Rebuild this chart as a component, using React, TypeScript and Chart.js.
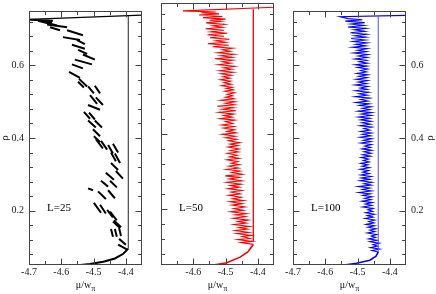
import React, { useEffect, useRef } from 'react';
import { Chart, registerables } from 'chart.js';

Chart.register(...registerables);

// ---------- axes ----------
const X_MIN = -4.7;
const X_MAX = -4.35;
const Y_MIN = 0.05;
const Y_MAX = 0.75;
const xMajor = [-4.7, -4.6, -4.5, -4.4];
const xMinor = [-4.65, -4.55, -4.45];
const yMajor = [0.2, 0.4, 0.6];
const yMinor = [0.08, 0.12, 0.16, 0.24, 0.28, 0.32, 0.36, 0.44, 0.48, 0.52, 0.56, 0.64, 0.68, 0.72];
const xLabelsP1 = ['-4.7', '-4.6', '-4.5', '-4.4'];
const xLabelsP2 = ['-4.6', '-4.5', '-4.4'];
const xLabelsP3 = ['-4.7', '-4.6', '-4.5', '-4.4'];
const yLabels = ['0.2', '0.4', '0.6'];
const panelNames = ['L=25', 'L=50', 'L=100'];

// ---------- data ----------
// coexistence chemical potential (vertical line) per L
const coexMu = [-4.3925, -4.414, -4.436];
const coexRhoLow = [0.095, 0.112, 0.086];
const coexRhoHigh = [0.736, 0.733, 0.736];

// gas branch (mu, rho)
const gasL25: [number, number][] = [[-4.62, 0.042], [-4.573, 0.047], [-4.511, 0.053], [-4.47, 0.059], [-4.434, 0.068], [-4.408, 0.081], [-4.3925, 0.095]];
const gasL50: [number, number][] = [[-4.6, 0.042], [-4.558, 0.047], [-4.496, 0.056], [-4.455, 0.071], [-4.431, 0.085], [-4.416, 0.103], [-4.414, 0.105]];
const gasL100: [number, number][] = [[-4.6, 0.042], [-4.565, 0.047], [-4.503, 0.055], [-4.462, 0.063], [-4.443, 0.074], [-4.436, 0.086]];

// liquid branch (mu, rho)
const liqL25: [number, number][] = [[-4.7, 0.727], [-4.35, 0.7385]];

// L=25 simulation strokes: [mu1, rho1, mu2, rho2]
const strokesL25: [number, number, number, number][] = [
  [-4.397, 0.093, -4.424, 0.106], [-4.4, 0.106, -4.421, 0.122], [-4.44, 0.128, -4.446, 0.149],
  [-4.428, 0.128, -4.434, 0.149], [-4.415, 0.13, -4.421, 0.152], [-4.415, 0.154, -4.437, 0.173],
  [-4.418, 0.152, -4.44, 0.17], [-4.428, 0.173, -4.449, 0.197], [-4.44, 0.181, -4.458, 0.202],
  [-4.462, 0.192, -4.48, 0.216], [-4.477, 0.194, -4.499, 0.221], [-4.434, 0.234, -4.455, 0.256],
  [-4.462, 0.232, -4.486, 0.253], [-4.502, 0.256, -4.517, 0.261], [-4.428, 0.264, -4.449, 0.282],
  [-4.455, 0.266, -4.477, 0.282], [-4.409, 0.288, -4.431, 0.309], [-4.437, 0.285, -4.462, 0.304],
  [-4.424, 0.312, -4.446, 0.331], [-4.418, 0.331, -4.434, 0.357], [-4.431, 0.336, -4.446, 0.36],
  [-4.44, 0.357, -4.455, 0.381], [-4.424, 0.36, -4.44, 0.384], [-4.458, 0.368, -4.477, 0.392],
  [-4.471, 0.371, -4.493, 0.397], [-4.48, 0.389, -4.499, 0.405], [-4.48, 0.405, -4.502, 0.424],
  [-4.474, 0.429, -4.496, 0.448], [-4.493, 0.429, -4.517, 0.448], [-4.496, 0.451, -4.514, 0.47],
  [-4.511, 0.453, -4.53, 0.472], [-4.48, 0.478, -4.517, 0.491], [-4.471, 0.491, -4.493, 0.512],
  [-4.489, 0.494, -4.511, 0.518], [-4.48, 0.523, -4.496, 0.544], [-4.499, 0.523, -4.517, 0.542],
  [-4.52, 0.542, -4.545, 0.563], [-4.53, 0.539, -4.548, 0.555], [-4.542, 0.566, -4.576, 0.582],
  [-4.533, 0.592, -4.567, 0.603], [-4.505, 0.603, -4.558, 0.616], [-4.496, 0.616, -4.533, 0.63],
  [-4.52, 0.632, -4.548, 0.643], [-4.527, 0.646, -4.567, 0.657], [-4.527, 0.659, -4.551, 0.67],
  [-4.542, 0.67, -4.595, 0.678], [-4.533, 0.683, -4.582, 0.697], [-4.604, 0.697, -4.635, 0.705],
  [-4.582, 0.705, -4.644, 0.713], [-4.613, 0.71, -4.672, 0.723], [-4.629, 0.718, -4.681, 0.726],
  [-4.626, 0.723, -4.697, 0.726],
];

// L=50 simulation (mu, rho), ends on the liquid branch
const simL50: [number, number][] = [
  [-4.414, 0.105], [-4.452, 0.11], [-4.418, 0.113], [-4.462, 0.118], [-4.425, 0.121], [-4.448, 0.126], [-4.42, 0.129], [-4.465, 0.134],
  [-4.428, 0.137], [-4.47, 0.142], [-4.432, 0.146], [-4.458, 0.15], [-4.426, 0.153], [-4.474, 0.158], [-4.436, 0.162], [-4.462, 0.166],
  [-4.43, 0.17], [-4.476, 0.175], [-4.438, 0.179], [-4.47, 0.184], [-4.436, 0.187], [-4.484, 0.192], [-4.445, 0.196], [-4.474, 0.201],
  [-4.44, 0.205], [-4.48, 0.21], [-4.448, 0.214], [-4.486, 0.219], [-4.444, 0.222], [-4.478, 0.227], [-4.452, 0.231], [-4.49, 0.236],
  [-4.455, 0.24], [-4.482, 0.245], [-4.45, 0.249], [-4.492, 0.254], [-4.458, 0.258], [-4.485, 0.262], [-4.452, 0.266], [-4.496, 0.271],
  [-4.45, 0.275], [-4.488, 0.28], [-4.458, 0.284], [-4.501, 0.288], [-4.448, 0.292], [-4.48, 0.297], [-4.455, 0.301], [-4.497, 0.305],
  [-4.46, 0.309], [-4.49, 0.314], [-4.457, 0.318], [-4.482, 0.322], [-4.462, 0.326], [-4.495, 0.331], [-4.458, 0.335], [-4.487, 0.339],
  [-4.464, 0.343], [-4.494, 0.348], [-4.46, 0.352], [-4.485, 0.356], [-4.458, 0.36], [-4.492, 0.365], [-4.462, 0.369], [-4.486, 0.373],
  [-4.456, 0.377], [-4.49, 0.382], [-4.466, 0.386], [-4.5, 0.39], [-4.47, 0.394], [-4.51, 0.399], [-4.468, 0.403], [-4.495, 0.407],
  [-4.472, 0.411], [-4.506, 0.416], [-4.474, 0.42], [-4.512, 0.424], [-4.478, 0.428], [-4.5, 0.433], [-4.472, 0.437], [-4.516, 0.441],
  [-4.48, 0.445], [-4.505, 0.449], [-4.475, 0.453], [-4.52, 0.458], [-4.468, 0.462], [-4.51, 0.466], [-4.476, 0.47], [-4.526, 0.474],
  [-4.472, 0.478], [-4.5, 0.482], [-4.47, 0.486], [-4.515, 0.49], [-4.474, 0.494], [-4.5, 0.498], [-4.478, 0.502], [-4.495, 0.506],
  [-4.472, 0.51], [-4.502, 0.514], [-4.476, 0.518], [-4.498, 0.522], [-4.48, 0.525], [-4.512, 0.529], [-4.482, 0.533], [-4.505, 0.537],
  [-4.484, 0.541], [-4.516, 0.545], [-4.486, 0.549], [-4.508, 0.553], [-4.482, 0.557], [-4.514, 0.561], [-4.476, 0.565], [-4.518, 0.569],
  [-4.48, 0.573], [-4.506, 0.577], [-4.472, 0.581], [-4.522, 0.585], [-4.484, 0.589], [-4.51, 0.593], [-4.478, 0.597], [-4.533, 0.601],
  [-4.48, 0.605], [-4.515, 0.609], [-4.474, 0.613], [-4.524, 0.617], [-4.486, 0.621], [-4.51, 0.625], [-4.478, 0.629], [-4.54, 0.633],
  [-4.49, 0.637], [-4.555, 0.641], [-4.5, 0.645], [-4.53, 0.649], [-4.488, 0.653], [-4.548, 0.657], [-4.505, 0.661], [-4.556, 0.665],
  [-4.495, 0.669], [-4.545, 0.673], [-4.505, 0.677], [-4.562, 0.681], [-4.51, 0.685], [-4.54, 0.689], [-4.504, 0.693], [-4.56, 0.697],
  [-4.515, 0.701], [-4.55, 0.704], [-4.5, 0.707], [-4.57, 0.711], [-4.51, 0.714], [-4.582, 0.718], [-4.52, 0.721], [-4.575, 0.724],
  [-4.53, 0.726], [-4.632, 0.729], [-4.35, 0.7385],
];

// L=100 simulation (mu, rho), ends on the liquid branch
const simL100: [number, number][] = [
  [-4.436, 0.086], [-4.455, 0.09], [-4.432, 0.094], [-4.46, 0.098], [-4.438, 0.102], [-4.452, 0.106], [-4.433, 0.11], [-4.462, 0.114],
  [-4.44, 0.118], [-4.466, 0.122], [-4.444, 0.126], [-4.458, 0.13], [-4.441, 0.134], [-4.47, 0.138], [-4.446, 0.142], [-4.462, 0.146],
  [-4.443, 0.15], [-4.468, 0.154], [-4.447, 0.158], [-4.474, 0.162], [-4.449, 0.166], [-4.465, 0.17], [-4.447, 0.174], [-4.476, 0.178],
  [-4.452, 0.182], [-4.47, 0.186], [-4.448, 0.19], [-4.475, 0.194], [-4.453, 0.198], [-4.468, 0.202], [-4.452, 0.206], [-4.484, 0.21],
  [-4.456, 0.214], [-4.476, 0.218], [-4.454, 0.222], [-4.486, 0.226], [-4.458, 0.23], [-4.478, 0.234], [-4.455, 0.238], [-4.483, 0.242],
  [-4.46, 0.246], [-4.496, 0.25], [-4.457, 0.254], [-4.485, 0.258], [-4.462, 0.262], [-4.498, 0.266], [-4.458, 0.27], [-4.48, 0.274],
  [-4.456, 0.278], [-4.492, 0.282], [-4.462, 0.286], [-4.488, 0.29], [-4.458, 0.294], [-4.49, 0.298], [-4.464, 0.302], [-4.484, 0.306],
  [-4.466, 0.31], [-4.492, 0.314], [-4.463, 0.318], [-4.486, 0.322], [-4.468, 0.326], [-4.49, 0.33], [-4.464, 0.334], [-4.482, 0.338],
  [-4.466, 0.342], [-4.489, 0.346], [-4.46, 0.35], [-4.484, 0.354], [-4.458, 0.358], [-4.48, 0.362], [-4.456, 0.366], [-4.486, 0.37],
  [-4.46, 0.374], [-4.478, 0.378], [-4.457, 0.382], [-4.49, 0.386], [-4.458, 0.39], [-4.482, 0.394], [-4.456, 0.398], [-4.492, 0.402],
  [-4.46, 0.406], [-4.485, 0.41], [-4.457, 0.414], [-4.49, 0.418], [-4.462, 0.422], [-4.48, 0.426], [-4.456, 0.43], [-4.492, 0.434],
  [-4.46, 0.438], [-4.486, 0.442], [-4.458, 0.446], [-4.49, 0.45], [-4.462, 0.454], [-4.497, 0.458], [-4.458, 0.462], [-4.488, 0.466],
  [-4.456, 0.47], [-4.498, 0.474], [-4.462, 0.478], [-4.485, 0.482], [-4.458, 0.486], [-4.494, 0.49], [-4.464, 0.494], [-4.505, 0.498],
  [-4.468, 0.502], [-4.49, 0.506], [-4.463, 0.51], [-4.507, 0.514], [-4.47, 0.518], [-4.495, 0.522], [-4.466, 0.526], [-4.506, 0.53],
  [-4.47, 0.534], [-4.492, 0.538], [-4.468, 0.542], [-4.508, 0.546], [-4.472, 0.55], [-4.498, 0.554], [-4.469, 0.558], [-4.504, 0.562],
  [-4.47, 0.566], [-4.496, 0.57], [-4.468, 0.574], [-4.502, 0.578], [-4.472, 0.582], [-4.49, 0.586], [-4.469, 0.59], [-4.5, 0.594],
  [-4.471, 0.598], [-4.507, 0.602], [-4.469, 0.606], [-4.495, 0.61], [-4.472, 0.614], [-4.508, 0.618], [-4.47, 0.622], [-4.498, 0.626],
  [-4.468, 0.63], [-4.512, 0.634], [-4.472, 0.638], [-4.5, 0.642], [-4.47, 0.646], [-4.516, 0.65], [-4.475, 0.654], [-4.505, 0.658],
  [-4.47, 0.662], [-4.514, 0.666], [-4.476, 0.67], [-4.52, 0.674], [-4.474, 0.678], [-4.508, 0.682], [-4.472, 0.686], [-4.522, 0.69],
  [-4.478, 0.694], [-4.51, 0.698], [-4.474, 0.702], [-4.53, 0.706], [-4.48, 0.71], [-4.52, 0.714], [-4.478, 0.718], [-4.538, 0.722],
  [-4.485, 0.726], [-4.53, 0.729], [-4.554, 0.734], [-4.35, 0.738],
];

// ---------- layout / style ----------
const W = 436;
const H = 294;
const SERIF = "'Liberation Serif', 'Times New Roman', serif";

type Panel = {
  padL: number; padR: number; yPos: 'left' | 'right' | null; xLabels: string[];
  color: string; coexColor: string; coexWidth: number; name: string; idx: number;
};

const panels: Panel[] = [
  { padL: 0, padR: 294, yPos: 'left', xLabels: xLabelsP1, color: '#000000', coexColor: '#222222', coexWidth: 1, name: panelNames[0], idx: 0 },
  { padL: 161, padR: 162, yPos: null, xLabels: xLabelsP2, color: '#ff0000', coexColor: '#ff0000', coexWidth: 1.3, name: panelNames[1], idx: 1 },
  { padL: 293, padR: 0, yPos: 'right', xLabels: xLabelsP3, color: '#0000ff', coexColor: '#4a4aff', coexWidth: 1, name: panelNames[2], idx: 2 },
];

const pts = (arr: [number, number][]) => arr.map(([x, y]) => ({ x, y }));

function buildDatasets(p: Panel) {
  const line = (data: any[], color: string, width: number) => ({
    data, showLine: true, borderColor: color, backgroundColor: color, borderWidth: width,
    pointRadius: 0, pointHoverRadius: 0, spanGaps: false, tension: 0,
  });
  const coex = line(
    [{ x: coexMu[p.idx], y: coexRhoLow[p.idx] }, { x: coexMu[p.idx], y: coexRhoHigh[p.idx] }],
    p.coexColor, p.coexWidth,
  );
  if (p.idx === 0) {
    const strokeData: any[] = [];
    strokesL25.forEach(([m1, r1, m2, r2]) => {
      strokeData.push({ x: m1, y: r1 }, { x: m2, y: r2 }, { x: null, y: null });
    });
    return [coex, line(pts(gasL25), p.color, 2), line(pts(liqL25), p.color, 1.4), line(strokeData, p.color, 2)];
  }
  if (p.idx === 1) {
    return [coex, line(pts(gasL50), p.color, 1.6), line(pts(simL50), p.color, 1.1)];
  }
  return [coex, line(pts(gasL100), p.color, 1.6), line(pts(simL100), p.color, 1.1)];
}

function decorPlugin(p: Panel) {
  return {
    id: 'decor' + p.idx,
    afterDatasetsDraw(chart: any) {
      const { ctx, chartArea: a, scales } = chart;
      const xs = scales.x;
      const ys = scales.y;
      ctx.save();
      ctx.strokeStyle = '#444';
      ctx.lineWidth = 1;
      const seg = (x1: number, y1: number, x2: number, y2: number) => {
        ctx.beginPath(); ctx.moveTo(x1, y1); ctx.lineTo(x2, y2); ctx.stroke();
      };
      const L = Math.round(a.left) + 0.5;
      const R = Math.round(a.right) - 0.5;
      const T = Math.round(a.top) + 0.5;
      const B = Math.round(a.bottom) - 0.5;
      const xt = (v: number, len: number) => {
        const px = Math.round(xs.getPixelForValue(v)) + 0.5;
        seg(px, B, px, B - len); seg(px, T, px, T + len);
      };
      const yt = (v: number, len: number) => {
        const py = Math.round(ys.getPixelForValue(v)) + 0.5;
        seg(L, py, L + len, py); seg(R, py, R - len, py);
      };
      xMajor.forEach((v) => xt(v, 6));
      xMinor.forEach((v) => xt(v, 3.5));
      yMajor.forEach((v) => yt(v, 6));
      yMinor.forEach((v) => yt(v, 3.5));
      ctx.strokeRect(L, T, R - L, B - T);

      // axis titles
      ctx.fillStyle = '#111';
      const cx = (a.left + a.right) / 2;
      ctx.font = `10px ${SERIF}`;
      ctx.textBaseline = 'alphabetic';
      const main = 'μ/w';
      const sub = 'π';
      const wMain = ctx.measureText(main).width;
      ctx.font = `8px ${SERIF}`;
      const wSub = ctx.measureText(sub).width;
      const x0 = cx - (wMain + wSub) / 2;
      ctx.font = `10px ${SERIF}`;
      ctx.textAlign = 'left';
      ctx.fillText(main, x0, 288);
      ctx.font = `8px ${SERIF}`;
      ctx.fillText(sub, x0 + wMain, 291);

      if (p.yPos) {
        const rx = p.yPos === 'left' ? 5 : 430;
        const ry = (a.top + a.bottom) / 2;
        ctx.save();
        ctx.translate(rx, ry);
        ctx.rotate(-Math.PI / 2);
        ctx.font = `11px ${SERIF}`;
        ctx.textAlign = 'center';
        ctx.textBaseline = 'middle';
        ctx.fillText('ρ', 0, 0);
        ctx.restore();
      }

      // panel label
      ctx.font = `11px ${SERIF}`;
      ctx.textAlign = 'left';
      ctx.textBaseline = 'alphabetic';
      ctx.fillStyle = '#000';
      ctx.fillText(p.name, a.left + 18, 211);
      ctx.restore();
    },
  };
}

function labelCb(labels: string[]) {
  return (v: any) => {
    const n = Number(v);
    const s = n.toFixed(1);
    return Math.abs(n - parseFloat(s)) < 1e-6 && labels.includes(s) ? s : '';
  };
}

function makeChart(canvas: HTMLCanvasElement, p: Panel) {
  const tickFont = { family: SERIF, size: 10 };
  const yScale: any = p.yPos
    ? {
        type: 'linear', min: Y_MIN, max: Y_MAX, position: p.yPos,
        grid: { display: false, drawTicks: false }, border: { display: false },
        ticks: { stepSize: 0.2, includeBounds: false, autoSkip: false, padding: 5, color: '#222', font: tickFont, callback: labelCb(yLabels) },
        afterFit: (s: any) => { s.width = p.yPos === 'left' ? 29 : 30; },
      }
    : { type: 'linear', min: Y_MIN, max: Y_MAX, display: false };
  return new Chart(canvas, {
    type: 'scatter',
    data: { datasets: buildDatasets(p) as any },
    options: {
      animation: false,
      responsive: false,
      devicePixelRatio: 1,
      events: [],
      layout: { padding: { left: p.padL, right: p.padR, top: 3, bottom: 0 } },
      plugins: { legend: { display: false }, tooltip: { enabled: false } },
      scales: {
        x: {
          type: 'linear', min: X_MIN, max: X_MAX, position: 'bottom',
          grid: { display: false, drawTicks: false }, border: { display: false },
          ticks: { stepSize: 0.1, includeBounds: false, autoSkip: false, maxRotation: 0, padding: 1, color: '#222', font: tickFont, callback: labelCb(p.xLabels) },
          afterFit: (s: any) => { s.height = 29; },
        } as any,
        y: yScale,
      },
    },
    plugins: [decorPlugin(p)],
  });
}

export default function App() {
  const r0 = useRef<HTMLCanvasElement>(null);
  const r1 = useRef<HTMLCanvasElement>(null);
  const r2 = useRef<HTMLCanvasElement>(null);
  useEffect(() => {
    const refs = [r0, r1, r2];
    const charts = panels.map((p, i) => makeChart(refs[i].current as HTMLCanvasElement, p));
    return () => charts.forEach((c) => c.destroy());
  }, []);
  const cs: React.CSSProperties = { position: 'absolute', left: 0, top: 0, width: W, height: H };
  return (
    <div style={{ position: 'absolute', left: 0, top: 0, width: W, height: H, background: '#fff' }}>
      <canvas ref={r0} width={W} height={H} style={cs} />
      <canvas ref={r1} width={W} height={H} style={cs} />
      <canvas ref={r2} width={W} height={H} style={cs} />
    </div>
  );
}
